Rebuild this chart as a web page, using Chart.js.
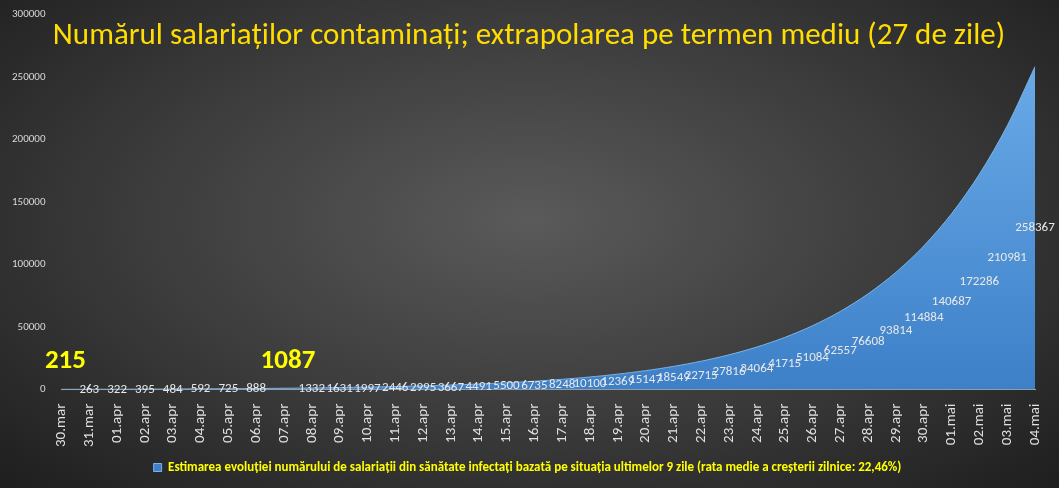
<!DOCTYPE html>
<html>
<head>
    <script src="https://cdn.jsdelivr.net/npm/chart.js"></script>
    <style>
        body { margin: 0; width: 1059px; height: 488px; overflow: hidden;
               background: radial-gradient(ellipse at 50% 45%, #5a5a5a 0%, #3a3a3a 55%, #1e1e1e 100%); }
        #wrap { position: relative; width: 1059px; height: 488px; }
    </style>
</head>
<body>
<div id="wrap"><canvas id="c"></canvas></div>
<script>
const zile = ['30.mar','31.mar','01.apr','02.apr','03.apr','04.apr','05.apr','06.apr','07.apr','08.apr','09.apr','10.apr','11.apr','12.apr','13.apr','14.apr','15.apr','16.apr','17.apr','18.apr','19.apr','20.apr','21.apr','22.apr','23.apr','24.apr','25.apr','26.apr','27.apr','28.apr','29.apr','30.apr','01.mai','02.mai','03.mai','04.mai'];
const salariati = [215,263,322,395,484,592,725,888,1087,1332,1631,1997,2446,2995,3667,4491,5500,6735,8248,10100,12369,15147,18549,22715,27816,34064,41715,51084,62557,76608,93814,114884,140687,172286,210981,258367];
const evidentiate = [0, 8]; // etichete mari galbene

// titlu + etichete de date
const labelsPlugin = {
    id: 'labelsPlugin',
    afterDatasetsDraw(chart) {
        const c = chart.ctx, ys = chart.scales.y;
        const meta = chart.getDatasetMeta(0);
        c.save();
        c.textAlign = 'center'; c.textBaseline = 'middle';
        meta.data.forEach((p, i) => {
            if (evidentiate.includes(i)) {
                c.font = 'bold 27px Calibri, Carlito, "Liberation Sans", sans-serif';
                c.fillStyle = '#ffff00';
                c.fillText(salariati[i], p.x + 4, ys.getPixelForValue(23000));
                return;
            }
            let y = ys.getPixelForValue(salariati[i] / 2);
            y = Math.min(y, ys.getPixelForValue(0) + 2);
            c.font = '13px Calibri, Carlito, "Liberation Sans", sans-serif';
            c.fillStyle = '#e8e8e8';
            c.fillText(salariati[i], p.x, y);
        });
        c.font = '31px Calibri, Carlito, "Open Sans", sans-serif';
        c.fillStyle = '#ffdd00';
        c.fillText('Numărul salariaților contaminați; extrapolarea pe termen mediu (27 de zile)', 529, 36);
        c.restore();
    }
};

const ctx = document.getElementById('c').getContext('2d');
const grad = ctx.createLinearGradient(0, 60, 0, 390);
grad.addColorStop(0, '#6aaae8');
grad.addColorStop(1, '#3d80c8');

new Chart(ctx, {
    type: 'line',
    data: {
        labels: zile,
        datasets: [{
            label: 'Estimarea evoluției numărului de salariații din sănătate infectați bazată pe situația ultimelor 9 zile (rata medie a creșterii zilnice: 22,46%)',
            data: salariati,
            fill: 'origin',
            backgroundColor: grad,
            borderColor: '#7ab4ea',
            borderWidth: 1,
            pointRadius: 0,
            tension: 0.3
        }]
    },
    options: {
        responsive: true,
        maintainAspectRatio: false,
        animation: false,
        layout: { padding: { top: 2, right: 8, left: 4, bottom: 4 } },
        scales: {
            y: {
                min: 0, max: 300000,
                ticks: { stepSize: 50000, color: '#d9d9d9', padding: 8, callback: v => String(v),
                         font: { size: 11, family: 'Calibri, Carlito, "Liberation Sans", sans-serif' } },
                grid: { display: false },
                border: { display: false }
            },
            x: {
                offset: false,
                ticks: { color: '#e0e0e0', maxRotation: 90, minRotation: 90, autoSkip: false, padding: 6,
                         font: { size: 15, family: 'Calibri, Carlito, "Liberation Sans", sans-serif' } },
                grid: { display: false },
                border: { color: '#a0a0a0' }
            }
        },
        plugins: {
            legend: {
                position: 'bottom',
                labels: { color: '#ffff00', boxWidth: 8, boxHeight: 8, padding: 8,
                          font: { size: 13, weight: 'bold', family: 'Calibri, Carlito, "Liberation Sans", sans-serif' } }
            },
            tooltip: { enabled: false }
        }
    },
    plugins: [labelsPlugin]
});
</script>
</body>
</html>
